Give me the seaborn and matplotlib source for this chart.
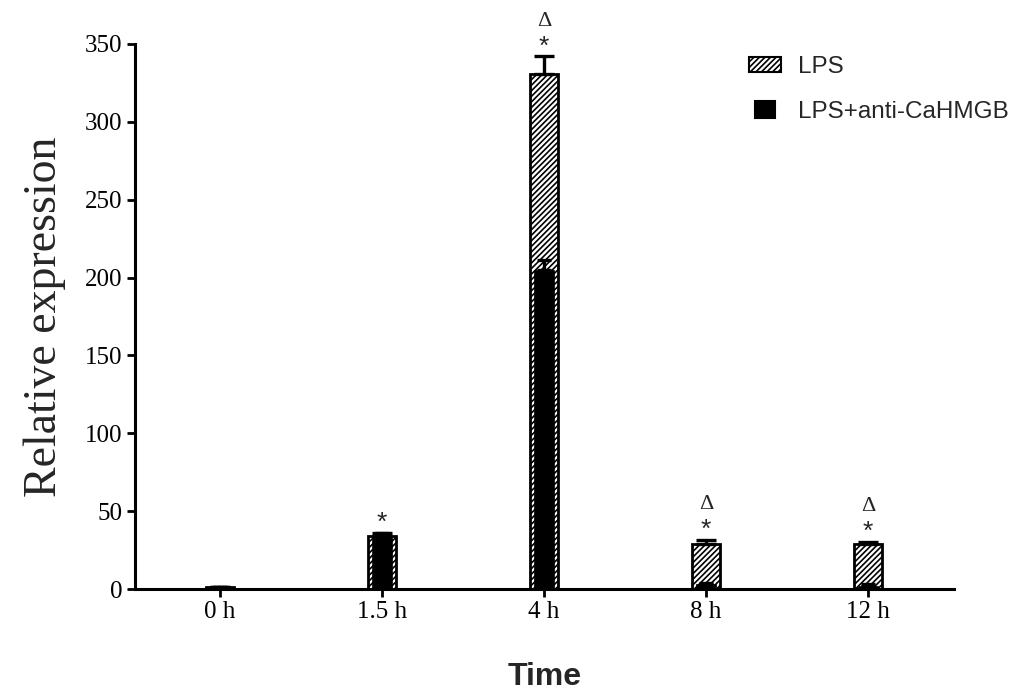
import matplotlib
matplotlib.use('AGG')
import matplotlib.pyplot as plt
from matplotlib.patches import Patch, Rectangle
from matplotlib.legend_handler import HandlerPatch
import pandas as pd
import numpy as np
import seaborn as sns

times = ['0 h', '1.5 h', '4 h', '8 h', '12 h']
lps = [1, 34, 331, 29, 29]
lps_err = [0.5, 2, 11, 2.5, 1.5]
anti = [1, 33.5, 205, 3, 2]
anti_err = [0.3, 2.5, 6, 1, 1]
star = ['', '*', '*', '*', '*']
delta = ['', '', '\u0394', '\u0394', '\u0394']

sns.set_theme(style='ticks')
plt.rcParams['font.family'] = ['Liberation Serif', 'DejaVu Serif']
plt.rcParams['hatch.linewidth'] = 1.2
plt.rcParams['hatch.color'] = 'black'

df = pd.DataFrame({'time': times, 'lps': lps, 'anti': anti})
pos = np.arange(len(times))

fig = plt.figure(figsize=(10.22, 6.92), dpi=100)
ax = fig.add_axes([135 / 1022, 103 / 692, (954 - 135) / 1022, (589 - 44) / 692])

sns.barplot(data=df, x='time', y='lps', order=times, width=0.173, color='white',
            edgecolor='black', linewidth=2, hatch='//////', errorbar=None, ax=ax,
            saturation=1)
ax.errorbar(pos, lps, yerr=[np.zeros(len(lps)), lps_err], fmt='none', ecolor='black',
            elinewidth=2.4, capsize=7, capthick=2.4)
sns.barplot(data=df, x='time', y='anti', order=times, width=0.12, color='black',
            edgecolor='black', linewidth=0.5, errorbar=None, ax=ax, saturation=1)
ax.errorbar(pos, anti, yerr=[np.zeros(len(anti)), anti_err], fmt='none', ecolor='black',
            elinewidth=2.4, capsize=5, capthick=2.4)

# significance marks above the LPS error bars
for i in range(len(times)):
    top = lps[i] + lps_err[i]
    if star[i]:
        ax.annotate(star[i], (pos[i], top), xytext=(0, 7), textcoords='offset points',
                    ha='center', va='center', fontsize=19, family='Liberation Sans',
                    annotation_clip=False)
    if delta[i]:
        ax.annotate(delta[i], (pos[i], top), xytext=(0, 25.5), textcoords='offset points',
                    ha='center', va='center', fontsize=16, annotation_clip=False)

ax.set_xlim(-0.525, 4.53)
ax.set_ylim(0, 350)
ax.set_yticks(range(0, 351, 50))
sns.despine(ax=ax)
for s in ['left', 'bottom']:
    ax.spines[s].set_linewidth(2.2)
    ax.spines[s].set_color('black')
ax.tick_params(axis='both', direction='out', length=6, width=2, colors='black',
               labelsize=18, pad=3)
ax.set_xlabel('Time', fontsize=23, fontweight='bold', family='Liberation Sans', labelpad=28)
ax.set_ylabel('Relative expression', fontsize=33, labelpad=14)


class SmallBox(HandlerPatch):
    def __init__(self, fw, fh):
        self.fw = fw
        self.fh = fh
        super().__init__()

    def create_artists(self, legend, orig_handle, xdescent, ydescent, width, height,
                       fontsize, trans):
        w = width * self.fw
        h = height * self.fh
        p = Rectangle((-xdescent + (width - w) / 2, -ydescent + (height - h) / 2), w, h,
                      facecolor=orig_handle.get_facecolor(),
                      edgecolor=orig_handle.get_edgecolor(),
                      hatch=orig_handle.get_hatch(), linewidth=1.5, transform=trans)
        return [p]


h1 = Patch(facecolor='white', edgecolor='black', hatch='//////', label='LPS')
h2 = Patch(facecolor='black', edgecolor='black', label='LPS+anti-CaHMGB')
leg = fig.legend(handles=[h1, h2], loc='upper left', bbox_to_anchor=(749 / 1022, 1 - 56 / 692),
                 frameon=False, borderpad=0, borderaxespad=0, handlelength=1.32,
                 handleheight=0.62, handletextpad=0.7, labelspacing=0.95,
                 prop={'family': 'Liberation Sans', 'size': 17.5},
                 handler_map={h1: SmallBox(1.0, 1.0), h2: SmallBox(0.62, 1.13)})

fig.savefig('out.png', dpi=100)
